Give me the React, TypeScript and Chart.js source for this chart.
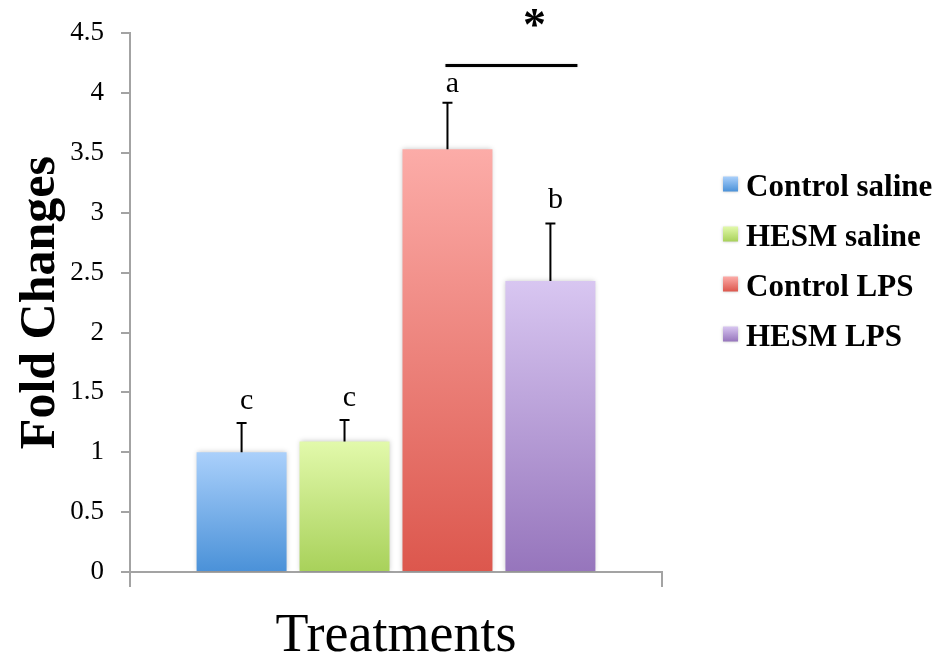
import React, { useEffect, useRef } from 'react';
import { Chart, registerables } from 'chart.js';

Chart.register(...registerables);

// ---- data ----
const categories = ['Treatments'];
const seriesNames = ['Control saline', 'HESM saline', 'Control LPS', 'HESM LPS'];
const meanValues = [1.0, 1.09, 3.53, 2.43];
const errorTops = [1.245, 1.27, 3.92, 2.91];
const groupLetters = ['c', 'c', 'a', 'b'];
const letterLevels = [1.36, 1.39, 4.01, 3.04];
const significanceLevel = 4.23;
const asteriskLevel = 4.64;
const yTickLabels = ['0', '0.5', '1', '1.5', '2', '2.5', '3', '3.5', '4', '4.5'];
const topColors = ['#aad0fb', '#e2f9ab', '#fcaca8', '#d8c6f1'];
const bottomColors = ['#4a91d8', '#a8d15a', '#dc574d', '#9675bc'];

const FONT = "'Liberation Serif', 'Times New Roman', serif";
const AXIS_GRAY = '#a3a3a3';

const overlayPlugin = {
  id: 'overlay',
  beforeDatasetsDraw(chart: any) {
    const ctx = chart.ctx;
    ctx.save();
    ctx.shadowColor = 'rgba(0,0,0,0.22)';
    ctx.shadowBlur = 5;
  },
  afterDatasetsDraw(chart: any) {
    const ctx = chart.ctx;
    ctx.restore();
    const ys = chart.scales.y;
    ctx.save();
    ctx.strokeStyle = '#000';
    ctx.fillStyle = '#000';
    const bars: any[] = [];
    seriesNames.forEach((_, i) => {
      const bar = chart.getDatasetMeta(i).data[0];
      bars.push(bar);
      const yTop = ys.getPixelForValue(errorTops[i]);
      ctx.lineWidth = 2;
      ctx.beginPath();
      ctx.moveTo(bar.x, bar.y);
      ctx.lineTo(bar.x, yTop);
      ctx.moveTo(bar.x - 5, yTop);
      ctx.lineTo(bar.x + 5, yTop);
      ctx.stroke();
      ctx.font = `30px ${FONT}`;
      ctx.textAlign = 'center';
      ctx.textBaseline = 'alphabetic';
      ctx.fillText(groupLetters[i], bar.x + 5, ys.getPixelForValue(letterLevels[i]));
    });
    // significance line
    const b3 = bars[2];
    const b4 = bars[3];
    const ySig = ys.getPixelForValue(significanceLevel);
    ctx.lineWidth = 3;
    ctx.shadowColor = 'rgba(0,0,0,0.25)';
    ctx.shadowBlur = 2;
    ctx.beginPath();
    ctx.moveTo(b3.x - 2, ySig);
    ctx.lineTo(b4.x + b4.width * 0.3, ySig);
    ctx.stroke();
    ctx.shadowBlur = 0;
    ctx.shadowColor = 'transparent';
    ctx.font = `bold 46px ${FONT}`;
    ctx.textAlign = 'center';
    ctx.textBaseline = 'alphabetic';
    ctx.fillText('*', b4.x - 16, ys.getPixelForValue(asteriskLevel) + 24);
    ctx.restore();
  },
  afterDraw(chart: any) {
    const ctx = chart.ctx;
    const area = chart.chartArea;
    ctx.save();
    const boxX = area.right + 61;
    const startY = 184;
    const step = 50;
    seriesNames.forEach((name, i) => {
      const cy = startY + i * step;
      const g = ctx.createLinearGradient(0, cy - 7.5, 0, cy + 7.5);
      g.addColorStop(0, topColors[i]);
      g.addColorStop(1, bottomColors[i]);
      ctx.shadowColor = 'rgba(0,0,0,0.25)';
      ctx.shadowBlur = 3;
      ctx.fillStyle = g;
      ctx.fillRect(boxX, cy - 7.5, 15, 15);
      ctx.shadowBlur = 0;
      ctx.shadowColor = 'transparent';
      ctx.fillStyle = '#000';
      ctx.font = `bold 31px ${FONT}`;
      ctx.textAlign = 'left';
      ctx.textBaseline = 'middle';
      ctx.fillText(name, boxX + 23, cy + 4);
    });
    ctx.restore();
  },
};

export default function App() {
  const canvasRef = useRef<HTMLCanvasElement | null>(null);

  useEffect(() => {
    document.body.style.margin = '0';
    const canvas = canvasRef.current;
    if (!canvas) return;
    const chart = new Chart(canvas, {
      type: 'bar',
      data: {
        labels: categories,
        datasets: seriesNames.map((name, i) => ({
          label: name,
          data: [meanValues[i]],
          borderWidth: 0,
          categoryPercentage: 0.774,
          barPercentage: 0.874,
          backgroundColor: (context: any) => {
            const ch = context.chart;
            const ys = ch.scales && ch.scales.y;
            if (!ch.chartArea || !ys) return bottomColors[i];
            const top = ys.getPixelForValue(meanValues[i]);
            const bottom = ys.getPixelForValue(0);
            const g = ch.ctx.createLinearGradient(0, top, 0, bottom);
            g.addColorStop(0, topColors[i]);
            g.addColorStop(1, bottomColors[i]);
            return g;
          },
        })),
      },
      options: {
        responsive: false,
        animation: false,
        devicePixelRatio: 1,
        layout: { padding: { top: 30, right: 284, left: 0, bottom: 0 } },
        plugins: {
          legend: { display: false },
          tooltip: { enabled: false },
        },
        scales: {
          x: {
            afterFit: (scale: any) => {
              scale.height = 90;
            },
            ticks: { display: false },
            grid: {
              display: true,
              drawOnChartArea: false,
              drawTicks: true,
              tickLength: 15,
              color: AXIS_GRAY,
              lineWidth: 2,
            },
            border: { display: true, color: AXIS_GRAY, width: 2 },
            title: {
              display: true,
              text: 'Treatments',
              color: '#000',
              font: { family: FONT, size: 54, lineHeight: 1 },
              padding: { top: 0, bottom: -2 },
            },
          },
          y: {
            min: 0,
            max: 4.5,
            afterFit: (scale: any) => {
              scale.width = 130;
            },
            ticks: {
              stepSize: 0.5,
              color: '#000',
              padding: 17,
              font: { family: FONT, size: 27 },
              callback: (_v: any, idx: number) => yTickLabels[idx],
            },
            grid: {
              display: true,
              drawOnChartArea: false,
              drawTicks: true,
              tickLength: 9,
              color: AXIS_GRAY,
              lineWidth: 2,
            },
            border: { display: true, color: AXIS_GRAY, width: 2 },
            title: {
              display: true,
              text: 'Fold Changes',
              color: '#000',
              font: { family: FONT, size: 50, weight: 'bold', lineHeight: 1 },
              padding: { top: 16, bottom: 0 },
            },
          },
        },
      },
      plugins: [overlayPlugin],
    });
    return () => chart.destroy();
  }, []);

  return (
    <div style={{ width: 946, height: 662, background: '#fff' }}>
      <canvas ref={canvasRef} width={946} height={662} />
    </div>
  );
}
